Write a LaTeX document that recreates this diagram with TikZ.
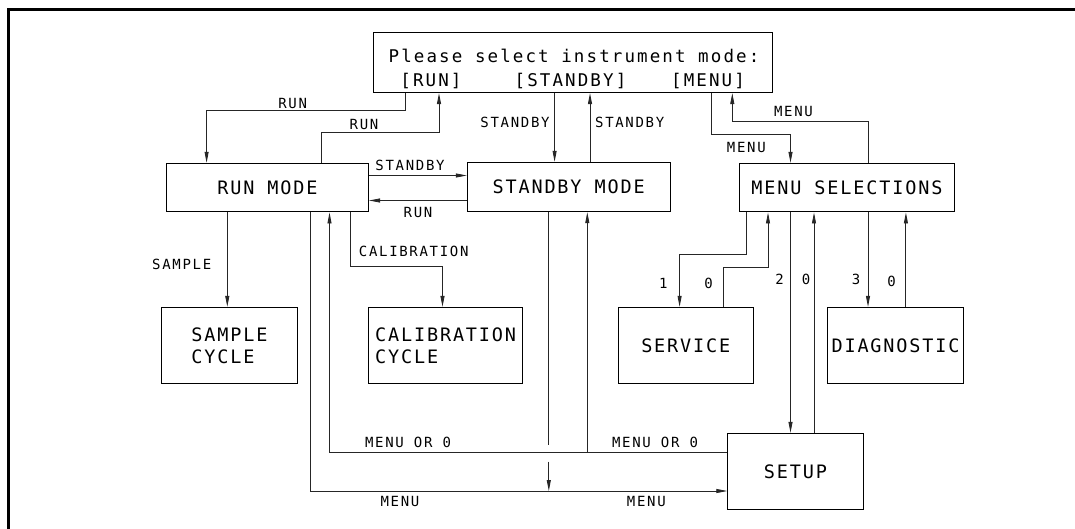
\documentclass[tikz,border=0pt]{standalone}
\usepackage{fontspec}
\usepackage{tikz}
\usetikzlibrary{
    arrows.meta,
    calc,
    positioning
}
\newfontfamily\cadlbl[LetterSpace=12]{DejaVu Sans Mono}
\newfontfamily\cadbox[LetterSpace=10]{DejaVu Sans Mono}
\newfontfamily\cadtop[LetterSpace=12]{DejaVu Sans Mono}
\tikzset{
    box/.style={draw, line width=1pt, inner sep=0pt, align=left,
        font=\cadbox\fontsize{18.5}{22}\selectfont},
    toptxt/.style={inner sep=0pt, font=\cadtop\fontsize{17.5}{20}\selectfont},
    lbl/.style={inner sep=0pt, font=\cadlbl\fontsize{14}{16}\selectfont},
    wire/.style={line width=0.85pt, draw=black!85},
    >={Triangle[length=11pt,width=4pt]}
}

\begin{document}
\begin{tikzpicture}[x=1pt, y=-1pt]
                        \useasboundingbox (0,0) rectangle (1075,529);
                        \draw[line width=2.6pt] (8.6,529) |- (1075,9.7);

                        \node[box, minimum width=399pt, minimum height=60.3pt] (prompt) at (573.1,62.45) {};
                        \node[toptxt] (ptitle) at (574,56) {Please select instrument mode:};
                        \node[toptxt] (pkrun) at (431,81) {[RUN]};
                        \node[toptxt] (pkstby) at (570.5,81) {[STANDBY]};
                        \node[toptxt] (pkmenu) at (708,81) {[MENU]};

                        \node[box, minimum width=202.2pt, minimum height=48.7pt] (runm) at (267.4,187.65) {RUN MODE};
                        \node[box, minimum width=202.7pt, minimum height=49.4pt] (stbym) at (568.65,187) {STANDBY MODE};
                        \node[box, minimum width=214.1pt, minimum height=48.7pt] (menus) at (846.95,187.65) {MENU SELECTIONS};
                        \node[box, minimum width=135.4pt, minimum height=75.9pt] (smpl) at (229.5,345.35) {SAMPLE\\CYCLE};
                        \node[box, minimum width=154.2pt, minimum height=75.9pt] (calib) at (445.6,345.35) {CALIBRATION\\CYCLE};
                        \node[box, minimum width=135pt, minimum height=75.9pt] (serv) at (685.8,345.35) {SERVICE};
                        \node[box, minimum width=135.7pt, minimum height=75.9pt] (diag) at (895.55,345.35) {DIAGNOSTIC};
                        \node[box, minimum width=135.4pt, minimum height=76pt] (setup) at (795.5,471.3) {SETUP};

                        \draw[wire,->] (prompt.south -| 405.6,0) -- ++(0,17.4) -| (runm.north -| 206.6,0);
                        \draw[wire,->] (runm.north -| 321.3,0) -- ++(0,-30.7) -| (prompt.south -| 439,0);
                        \draw[wire,->] (prompt.south -| 554.6,0) -- (stbym.north -| 554.6,0);
                        \draw[wire,->] (stbym.north -| 590,0) -- (prompt.south -| 590,0);
                        \draw[wire,->] (prompt.south -| 711.7,0) -- ++(0,41.8) -| (menus.north -| 790.5,0);
                        \draw[wire,->] (menus.north -| 868,0) -- ++(0,-41.6) -| (prompt.south -| 732.3,0);
                        \draw[wire,->] (runm.east |- 0,175.5) -- (stbym.west |- 0,175.5);
                        \draw[wire,->] (stbym.west |- 0,200.5) -- (runm.east |- 0,200.5);

                        \draw[wire,->] (runm.south -| 227.3,0) -- (smpl.north -| 227.3,0);
                        \draw[wire,->] (runm.south -| 350.5,0) -- ++(0,53.8) -| (calib.north -| 442.5,0);

                        \draw[wire,->] (menus.south -| 746.8,0) -- ++(0,42) -| (serv.north -| 679.6,0);
                        \draw[wire,->] (serv.north -| 723,0) -- ++(0,-39.1) -| (menus.south -| 768,0);
                        \draw[wire,->] (menus.south -| 790.5,0) -- (setup.north -| 790.5,0);
                        \draw[wire,->] (setup.north -| 814,0) -- (menus.south -| 814,0);
                        \draw[wire,->] (menus.south -| 868,0) -- (diag.north -| 868,0);
                        \draw[wire,->] (diag.north -| 905.9,0) -- (menus.south -| 905.9,0);

                        \draw[wire,->] (setup.west |- 0,452.7) -- (587.3,452.7) coordinate (tee) -| (runm.south -| 329.5,0);
                        \draw[wire,->] (tee) -- (stbym.south -| tee);
                        \draw[wire,->] (runm.south -| 310,0) |- (setup.west |- 0,491);
                        \coordinate (hop1) at (548.8,445);
                        \coordinate (hop2) at (548.8,461.7);
                        \coordinate (drop) at (548.8,491);
                        \draw[wire] (stbym.south -| hop1) -- (hop1);
                        \draw[wire,->] (hop2) -- (drop);

                        \node[lbl] (lrun1) at (292.7,103.3) {RUN};
                        \node[lbl] (lrun2) at (364,124.8) {RUN};
                        \node[lbl] (lstby1) at (515,122.7) {STANDBY};
                        \node[lbl] (lstby2) at (629.7,122.7) {STANDBY};
                        \node[lbl] (lstby3) at (410,165.8) {STANDBY};
                        \node[lbl] (lrun3) at (418,212.5) {RUN};
                        \node[lbl] (lmenu1) at (746.3,147) {MENU};
                        \node[lbl] (lmenu2) at (793.4,111) {MENU};
                        \node[lbl] (lsmpl) at (181.7,264) {SAMPLE};
                        \node[lbl] (lcalib) at (413.7,251) {CALIBRATION};
                        \node[lbl] (lmor1) at (408,442.5) {MENU OR 0};
                        \node[lbl] (lmor2) at (655,442.5) {MENU OR 0};
                        \node[lbl] (lmenu3) at (400,501) {MENU};
                        \node[lbl] (lmenu4) at (646.3,501.7) {MENU};
                        \node[lbl] (lone) at (663.3,283) {1};
                        \node[lbl] (lzero1) at (708.5,283) {0};
                        \node[lbl] (ltwo) at (779.6,279.5) {2};
                        \node[lbl] (lzero2) at (806,279.5) {0};
                        \node[lbl] (lthree) at (856,279.5) {3};
                        \node[lbl] (lzero3) at (891.5,281) {0};
                    \end{tikzpicture}
\end{document}
